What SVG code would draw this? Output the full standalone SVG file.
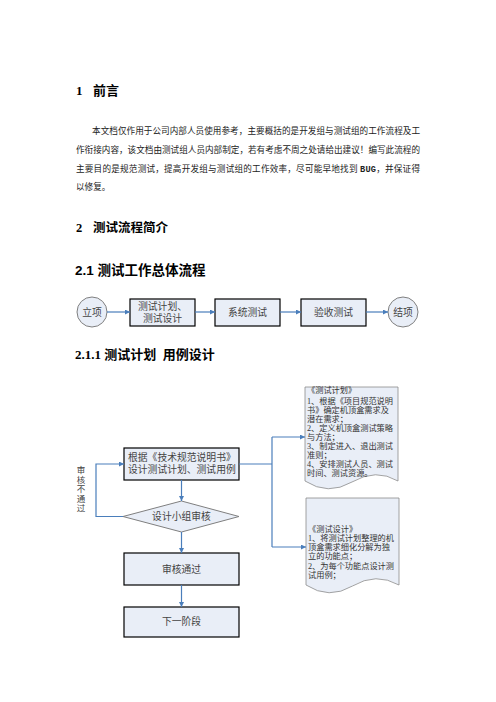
<svg xmlns="http://www.w3.org/2000/svg" width="496" height="702" viewBox="0 0 496 702">
<defs>
<marker id="ah" viewBox="0 0 10 10" refX="10" refY="5" markerWidth="5" markerHeight="5" orient="auto" markerUnits="userSpaceOnUse">
<path d="M0,0 L10,5 L0,10 z" fill="#4a7ebb"/>
</marker>
</defs>
<style>
.h{font-family:"Liberation Serif","Noto Sans CJK SC",serif;font-weight:bold;fill:#000}
.hs{font-family:"Liberation Sans","Noto Sans CJK SC",sans-serif;font-weight:bold;fill:#000}
.p{font-family:"Liberation Serif","Noto Sans CJK SC",serif;font-size:8.6px;fill:#222}
.t{font-family:"Liberation Serif","Noto Sans CJK SC",serif;font-size:9.8px;fill:#444}
.d{font-family:"Liberation Serif","Noto Sans CJK SC",serif;font-size:8.2px;fill:#333}
.box{fill:#e9eef7;stroke:#000;stroke-width:1.2}
.circ{fill:#e9eef7;stroke:#7f7f7f;stroke-width:1}
.doc{fill:#e9eef7;stroke:#8c8c8c;stroke-width:0.8}
.dia{fill:#e9eef7;stroke:#7f7f7f;stroke-width:1}
.c{fill:none;stroke:#4a7ebb;stroke-width:1.2}
</style>
<rect width="496" height="702" fill="#fff"/>

<text class="h" x="76" y="95" font-size="13">1</text>
<text class="h" x="93" y="95" font-size="13">前言</text>

<text class="p" x="92" y="134" textLength="328" lengthAdjust="spacing">本文档仅作用于公司内部人员使用参考，主要概括的是开发组与测试组的工作流程及工</text>
<text class="p" x="76" y="153" textLength="344" lengthAdjust="spacing">作衔接内容，该文档由测试组人员内部制定，若有考虑不周之处请给出建议！编写此流程的</text>
<text class="p" x="76" y="172" textLength="344" lengthAdjust="spacing">主要目的是规范测试，提高开发组与测试组的工作效率，尽可能早地找到 <tspan font-family="Liberation Mono,monospace" font-weight="bold">BUG</tspan>，并保证得</text>
<text class="p" x="76" y="190">以修复。</text>

<text class="h" x="76" y="232" font-size="12.5">2</text>
<text class="h" x="93" y="232" font-size="12.5">测试流程简介</text>

<text class="hs" x="75" y="275" font-size="13.5">2.1 测试工作总体流程</text>

<g id="lixiang"><circle class="circ" cx="92" cy="312" r="15"/><text class="t" x="92" y="315.5" text-anchor="middle">立项</text></g>
<g id="plan"><rect class="box" x="130" y="299" width="65" height="27"/><text class="t" x="162.5" y="309.5" text-anchor="middle">测试计划、</text><text class="t" x="162.5" y="321.5" text-anchor="middle">测试设计</text></g>
<g id="systest"><rect class="box" x="215" y="299" width="65" height="27"/><text class="t" x="247.5" y="316" text-anchor="middle">系统测试</text></g>
<g id="acctest"><rect class="box" x="301" y="299" width="65" height="27"/><text class="t" x="333.5" y="316" text-anchor="middle">验收测试</text></g>
<g id="jiexiang"><circle class="circ" cx="403" cy="312" r="15"/><text class="t" x="403" y="315.5" text-anchor="middle">结项</text></g>

<text class="h" x="75" y="359" font-size="13">2.1.1 测试计划&#160;&#160;用例设计</text>

<g id="doc-plan">
<path class="doc" d="M305,387 H398 V481 Q376,468 352,482 Q328,496 305,481 Z"/>
<text class="d" x="307" y="393">《测试计划》</text>
<text class="d" x="307" y="404">1、根据《项目规范说明</text>
<text class="d" x="307" y="413">书》确定机顶盒需求及</text>
<text class="d" x="307" y="422">潜在需求；</text>
<text class="d" x="307" y="431">2、定义机顶盒测试策略</text>
<text class="d" x="307" y="440">与方法；</text>
<text class="d" x="307" y="449">3、制定进入、退出测试</text>
<text class="d" x="307" y="458">准则；</text>
<text class="d" x="307" y="467">4、安排测试人员、测试</text>
<text class="d" x="307" y="476">时间、测试资源。</text>
</g>

<g id="doc-design">
<path class="doc" d="M306,498 H399 V585 Q376,572 352.5,586 Q329,600 306,585 Z"/>
<text class="d" x="308" y="532">《测试设计》</text>
<text class="d" x="308" y="541">1、将测试计划整理的机</text>
<text class="d" x="308" y="550">顶盒需求细化分解为独</text>
<text class="d" x="308" y="559">立的功能点；</text>
<text class="d" x="308" y="569">2、为每个功能点设计测</text>
<text class="d" x="308" y="578">试用例；</text>
</g>

<g id="design-box"><rect class="box" x="124" y="448" width="115" height="32" stroke-width="1.5"/><text class="t" x="128" y="461" font-size="9.6">根据《技术规范说明书》</text><text class="t" x="128" y="473" font-size="9.6">设计测试计划、测试用例</text></g>
<g id="review"><path class="dia" d="M123,516.5 L181.5,501 L239,516.5 L181.5,532 Z"/><text class="t" x="181.5" y="520" text-anchor="middle">设计小组审核</text></g>
<g id="pass"><rect class="box" x="124" y="553" width="115" height="32"/><text class="t" x="181.5" y="572.5" text-anchor="middle">审核通过</text></g>
<g id="next"><rect class="box" x="124" y="607" width="115" height="30"/><text class="t" x="181.5" y="625" text-anchor="middle">下一阶段</text></g>

<g id="fail-label" class="t" fill="#555">
<text x="81" y="473" text-anchor="middle" font-size="8.5">审</text>
<text x="81" y="482.5" text-anchor="middle" font-size="8.5">核</text>
<text x="81" y="492" text-anchor="middle" font-size="8.5">不</text>
<text x="81" y="501.5" text-anchor="middle" font-size="8.5">通</text>
<text x="81" y="511" text-anchor="middle" font-size="8.5">过</text>
</g>

<g id="connectors">
<path class="c" d="M107,312 H130" marker-end="url(#ah)"/>
<path class="c" d="M195,312 H215" marker-end="url(#ah)"/>
<path class="c" d="M280,312 H301" marker-end="url(#ah)"/>
<path class="c" d="M366,312 H388" marker-end="url(#ah)"/>
<path class="c" d="M181.5,480 V501" marker-end="url(#ah)"/>
<path class="c" d="M181.5,532 V553" marker-end="url(#ah)"/>
<path class="c" d="M181.5,585 V607" marker-end="url(#ah)"/>
<path class="c" d="M123,516.5 H96 V464 H124" marker-end="url(#ah)"/>
<path class="c" d="M239,464 H272"/>
<path class="c" d="M272,437 V547"/>
<path class="c" d="M272,437 H305" marker-end="url(#ah)"/>
<path class="c" d="M272,547 H306" marker-end="url(#ah)"/>
</g>
</svg>
